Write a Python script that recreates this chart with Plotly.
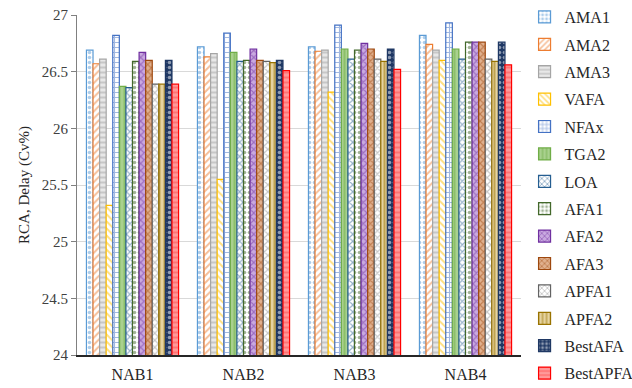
import plotly.graph_objects as go

groups = ["NAB1", "NAB2", "NAB3", "NAB4"]

series_names = ["AMA1", "AMA2", "AMA3", "VAFA", "NFAx", "TGA2", "LOA",
                "AFA1", "AFA2", "AFA3", "APFA1", "APFA2", "BestAFA", "BestAPFA"]

AMA1 = [26.69, 26.72, 26.72, 26.82]
AMA2 = [26.57, 26.63, 26.68, 26.74]
AMA3 = [26.61, 26.66, 26.69, 26.69]
VAFA = [25.32, 25.55, 26.32, 26.60]
NFAx = [26.82, 26.84, 26.91, 26.93]
TGA2 = [26.37, 26.67, 26.70, 26.70]
LOA = [26.36, 26.59, 26.61, 26.61]
AFA1 = [26.59, 26.60, 26.69, 26.76]
AFA2 = [26.67, 26.70, 26.75, 26.76]
AFA3 = [26.60, 26.60, 26.70, 26.76]
APFA1 = [26.39, 26.59, 26.61, 26.61]
APFA2 = [26.39, 26.58, 26.59, 26.59]
BestAFA = [26.60, 26.60, 26.70, 26.76]
BestAPFA = [26.39, 26.51, 26.52, 26.56]

values = [AMA1, AMA2, AMA3, VAFA, NFAx, TGA2, LOA,
          AFA1, AFA2, AFA3, APFA1, APFA2, BestAFA, BestAPFA]

# (outline colour, pattern shape, pattern fg colour, background colour)
styles = [
    ("#5B9BD5", ".", "#5B9BD5", "white"),
    ("#ED7D31", "/", "#ED7D31", "white"),
    ("#A5A5A5", "-", "#A5A5A5", "#E8E8E8"),
    ("#FFC000", "\\", "#FFC000", "white"),
    ("#4472C4", "+", "#4472C4", "white"),
    ("#70AD47", "|", "#70AD47", "#A9D18E"),
    ("#255E91", "x", "#255E91", "white"),
    ("#43682B", ".", "#43682B", "white"),
    ("#7030A0", "x", "#7030A0", "#C9A9E0"),
    ("#9E480E", "x", "#9E480E", "#E0B08E"),
    ("#636363", "x", "#8C8C8C", "white"),
    ("#997300", "|", "#997300", "#E6D3A0"),
    ("#1F3864", ".", "white", "#1F3864"),
    ("#FF0000", "-", "#FF5050", "#FF9999"),
]

fig = go.Figure()
for name, vals, (line_c, shape, fg, bg) in zip(series_names, values, styles):
    fig.add_trace(go.Bar(
        name=name, x=groups, y=vals, legendgroup=name,
        marker=dict(
            color=bg,
            line=dict(color=line_c, width=1.2),
            pattern=dict(shape=shape, fgcolor=fg, bgcolor=bg,
                         size=5, solidity=0.4, fillmode="overlay"),
        ),
    ))

font_family = "Liberation Serif"
fig.update_layout(
    width=632, height=388,
    margin=dict(l=77, r=111, t=15, b=33, autoexpand=False),
    paper_bgcolor="white", plot_bgcolor="white",
    barmode="group", bargap=0.17, bargroupgap=0.0,
    font=dict(family=font_family, size=15, color="#404040"),
    showlegend=True,
    legend=dict(
        xref="container", yref="container",
        x=0.83, y=1.005, xanchor="left", yanchor="top",
        font=dict(family=font_family, size=16, color="#262626"),
        itemwidth=30, traceorder="grouped", tracegroupgap=3.6,
        maxheight=388,
        bgcolor="rgba(0,0,0,0)",
    ),
    xaxis=dict(
        showline=True, linecolor="#262626", linewidth=1.5,
        ticks="", ticklabelstandoff=4,
        tickfont=dict(size=16, color="#262626"),
    ),
    yaxis=dict(
        range=[24, 27], dtick=0.5,
        showline=True, linecolor="#808080", linewidth=1,
        ticks="outside", ticklen=5, tickcolor="#808080",
        gridcolor="#D9D9D9", gridwidth=1,
        tickfont=dict(size=15, color="#404040"),
        title=dict(text="RCA, Delay (Cv%)", font=dict(size=15, color="#262626"), standoff=8),
    ),
)

fig.write_html("out.html")
